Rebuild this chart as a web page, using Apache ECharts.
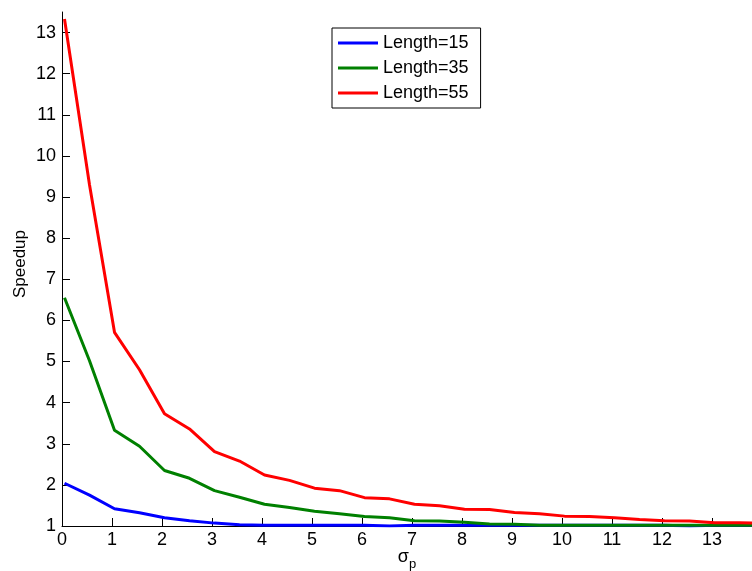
<!DOCTYPE html>
<html lang="en">
<head>
    <meta charset="UTF-8">
    <title>Speedup</title>
    <script src="https://cdn.jsdelivr.net/npm/echarts@6/dist/echarts.min.js"></script>
    <style>
        body { margin: 0; padding: 0; background: #fff; }
        #chart { width: 752px; height: 571px; }
    </style>
</head>
<body>
    <div id="chart"></div>
    <script>
        // sigma_p sample positions
        const sigma = [0.05, 0.55, 1.05, 1.55, 2.05, 2.55, 3.05, 3.55, 4.05, 4.55,
                       5.05, 5.55, 6.05, 6.55, 7.05, 7.55, 8.05, 8.55, 9.05, 9.55,
                       10.05, 10.55, 11.05, 11.55, 12.05, 12.55, 13.05, 13.55, 14.05];
        const len15 = [2.04, 1.75, 1.42, 1.32, 1.2, 1.13, 1.07, 1.03, 1.02, 1.02,
                       1.02, 1.02, 1.02, 1.0, 1.02, 1.02, 1.02, 1.02, 1.02, 1.02,
                       1.02, 1.02, 1.02, 1.02, 1.02, 1.0, 1.02, 1.02, 1.02];
        const len35 = [6.55, 5.02, 3.33, 2.94, 2.35, 2.16, 1.86, 1.7, 1.53, 1.45,
                       1.36, 1.3, 1.23, 1.2, 1.13, 1.12, 1.09, 1.05, 1.04, 1.02,
                       1.02, 1.02, 1.02, 1.02, 1.02, 1.02, 1.02, 1.02, 1.02];
        const len55 = [13.33, 9.3, 5.71, 4.8, 3.73, 3.36, 2.81, 2.58, 2.24, 2.11,
                       1.92, 1.86, 1.69, 1.66, 1.53, 1.49, 1.41, 1.4, 1.33, 1.3,
                       1.24, 1.23, 1.2, 1.16, 1.13, 1.12, 1.08, 1.08, 1.06];
        const xTicks = [0, 1, 2, 3, 4, 5, 6, 7, 8, 9, 10, 11, 12, 13];
        const yTicks = [1, 2, 3, 4, 5, 6, 7, 8, 9, 10, 11, 12, 13];

        const pairs = ys => sigma.map((x, i) => [x, ys[i]]);
        const font = 'Liberation Sans, Arial, sans-serif';

        function makeSeries(name, ys, color) {
            return {
                name: name,
                type: 'line',
                data: pairs(ys),
                symbol: 'none',
                clip: true,
                lineStyle: { color: color, width: 3 },
                itemStyle: { color: color }
            };
        }

        const chart = echarts.init(document.getElementById('chart'));
        chart.setOption({
            animation: false,
            textStyle: { fontFamily: font },
            grid: { left: 62, right: 0, top: 12, bottom: 45, outerBoundsMode: 'none', containLabel: false },
            legend: {
                orient: 'vertical',
                left: 332,
                top: 28,
                padding: [6, 12, 6, 6],
                itemGap: 7,
                itemWidth: 40,
                itemHeight: 3,
                icon: 'path://M0,0 L40,0 L40,3 L0,3 Z',
                borderColor: '#000',
                borderWidth: 1,
                textStyle: { fontSize: 18, color: '#000', fontFamily: font, lineHeight: 18 },
                data: ['Length=15', 'Length=35', 'Length=55']
            },
            xAxis: {
                type: 'value',
                min: 0,
                max: 13.8,
                name: '{a|σ}{b|p}',
                nameLocation: 'middle',
                nameGap: 18,
                nameMoveOverlap: false,
                nameTextStyle: {
                    rich: {
                        a: { fontSize: 18, color: '#000', fontFamily: font },
                        b: { fontSize: 13, color: '#000', fontFamily: font, padding: [14, 0, 0, 0] }
                    }
                },
                axisLine: { lineStyle: { color: '#000', width: 1 } },
                axisTick: { inside: true, length: 8, customValues: xTicks, lineStyle: { color: '#000' } },
                axisLabel: { customValues: xTicks, fontSize: 18, color: '#000', margin: 5 },
                splitLine: { show: false }
            },
            yAxis: {
                type: 'value',
                min: 1,
                max: 13.5,
                name: 'Speedup',
                nameLocation: 'middle',
                nameRotate: 90,
                nameGap: 33,
                nameMoveOverlap: false,
                nameTextStyle: { fontSize: 17, color: '#000', padding: [0, 0, 0, 10] },
                axisLine: { show: true, lineStyle: { color: '#000', width: 1 } },
                axisTick: { show: true, inside: true, length: 8, customValues: yTicks, lineStyle: { color: '#000' } },
                axisLabel: { customValues: yTicks, fontSize: 18, color: '#000', margin: 6 },
                splitLine: { show: false }
            },
            series: [
                makeSeries('Length=15', len15, '#0000ff'),
                makeSeries('Length=35', len35, '#008000'),
                makeSeries('Length=55', len55, '#ff0000')
            ]
        });
    </script>
</body>
</html>
